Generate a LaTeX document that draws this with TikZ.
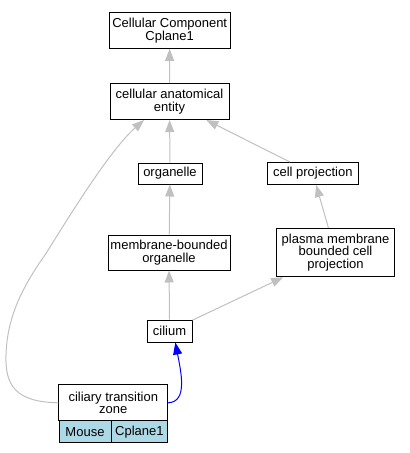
\documentclass[tikz,border=0pt]{standalone}
\usepackage{fontspec}
\setmainfont{Liberation Sans}
\usetikzlibrary{arrows.meta}
\definecolor{edgegray}{RGB}{192,192,192}
\definecolor{cellblue}{RGB}{173,216,230}
\begin{document}
\begin{tikzpicture}[x=1pt,y=-1pt,
  box/.style={draw=black, line width=1pt, fill=white, inner sep=0pt, align=center,
    font=\fontsize{13}{12.8}\selectfont},
  cell/.style={box, fill=cellblue},
  isa/.style={draw=edgegray, line width=1pt, -{Triangle[length=12pt,width=9pt]}},
  part/.style={draw=blue, line width=1pt, -{Triangle[length=12pt,width=9pt]}}]
\useasboundingbox (0,0) rectangle (410,453);
\node[box, minimum width=121pt, minimum height=36pt] (ccc) at (169.7,30.3) {Cellular Component\\Cplane1};
\node[box, minimum width=119pt, minimum height=36pt] (cae) at (169.5,101.5) {cellular anatomical\\entity};
\node[box, minimum width=64pt, minimum height=21pt] (org) at (170,173.5) {organelle};
\node[box, minimum width=91pt, minimum height=22pt] (cp) at (312.8,173.5) {cell projection};
\node[box, minimum width=122pt, minimum height=35pt] (mbo) at (169,252.5) {membrane-bounded\\organelle};
\node[box, minimum width=118pt, minimum height=48.5pt] (pmbcp) at (335.5,252.5) {plasma membrane\\bounded cell\\projection};
\node[box, minimum width=45pt, minimum height=22pt] (cil) at (169.5,331) {cilium};
\node[box, minimum width=108.7pt, minimum height=35.7pt] (ctz) at (113.3,402.8) {ciliary transition\\zone};
\node[cell, minimum width=52pt, minimum height=22pt] (mouse) at (85,431.7) {Mouse};
\node[cell, minimum width=56.7pt, minimum height=22pt] (cpl) at (139.35,431.7) {Cplane1};

\draw[isa] (cae) -- (ccc);
\draw[isa] (org) -- (cae);
\draw[isa] (cp) -- (cae);
\draw[isa] (mbo) -- (org);
\draw[isa] (pmbcp) -- (cp);
\draw[isa] (cil) -- (mbo);
\draw[isa] (cil) -- (pmbcp);
\draw[isa] (ctz.west) .. controls (15,402) and (5,385) .. (6,355)
  .. controls (7,320) and (20,290) .. (45,255)
  .. controls (70,215) and (110,150) .. (cae.-144);
\draw[part] (ctz.east) .. controls (188,402) and (181,372) .. (cil.-63);
\end{tikzpicture}
\end{document}
